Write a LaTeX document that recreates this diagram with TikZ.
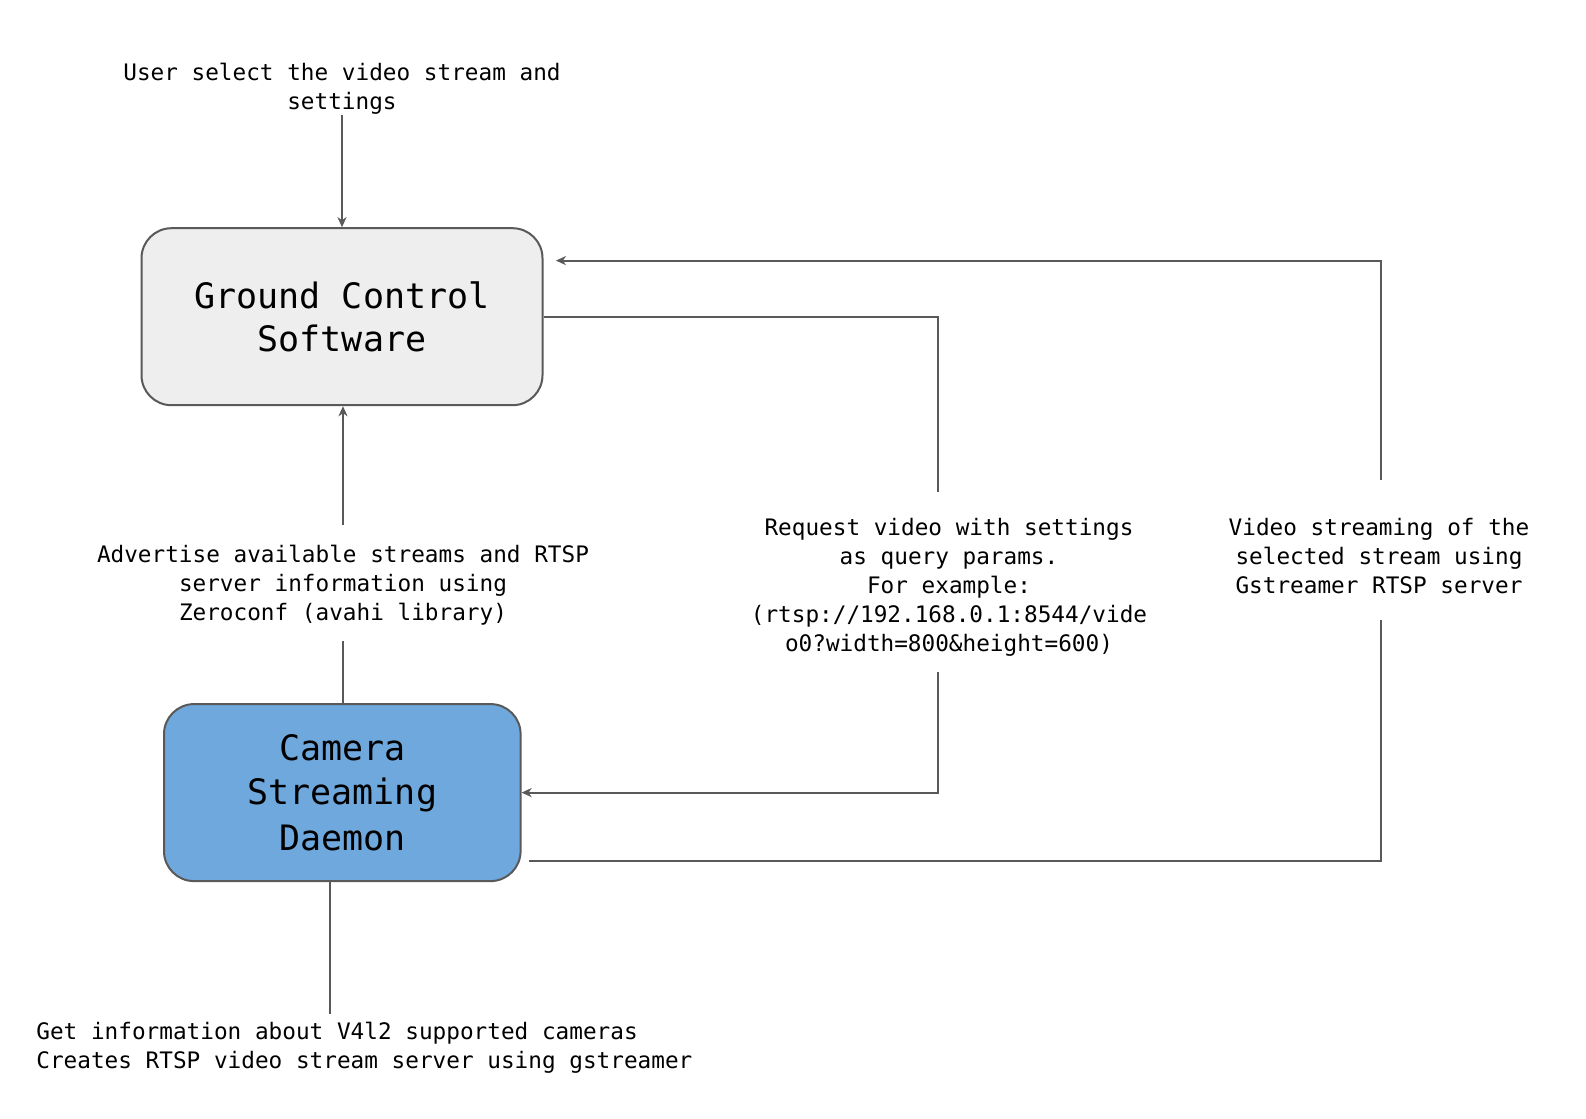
\documentclass[tikz,border=0pt]{standalone}
\usepackage{fontspec}
\usepackage{tikz}
\usetikzlibrary{arrows.meta}
\newfontfamily\diagfont{DejaVu Sans Mono}
\definecolor{wiregray}{HTML}{595959}
\definecolor{gcsfill}{HTML}{EEEEEE}
\definecolor{csdfill}{HTML}{6FA8DC}
\tikzset{
	box/.style={draw=wiregray, line width=1pt, rounded corners=15pt, minimum width=200.5pt, minimum height=88.5pt, align=center, font=\diagfont\fontsize{17.5}{23}\selectfont},
	note/.style={inner sep=0pt, align=center, font=\diagfont\fontsize{11.35}{14.5}\selectfont},
	wire/.style={draw=wiregray, line width=1pt},
	tip/.style={-{Stealth[length=5pt,width=4.5pt,inset=1.5pt]}}
}

\begin{document}
\begin{tikzpicture}[x=0.5pt, y=-0.5pt]
			%%%%% START %%%%%
			\useasboundingbox (0, 0) rectangle (1586, 1119);
			
			\node[box, fill=gcsfill] (gcs) at (342, 316.7) {\raisebox{-1.2pt}{Ground Control}\\Software};
			\node[box, fill=csdfill, minimum width=178.3pt] (csd) at (342.3, 792.6) {\raisebox{-1.2pt}{Camera}\\Streaming\\Daemon};
			
			\node[note] (user) at (342, 88.5) {User select the video stream and\\settings};
			\node[note] (adv) at (343, 585) {Advertise available streams and RTSP\\server information using\\Zeroconf (avahi library)};
			\node[note] (req) at (949, 587) {Request video with settings\\as query params.\\For example:\\(rtsp://192.168.0.1:8544/vide\\o0?width=800\&height=600)};
			\node[note] (vid) at (1379, 556) {Video streaming of the\\selected stream using\\Gstreamer RTSP server};
			\node[note, anchor=west, align=left] (info) at (36, 1047.5) {Get information about V4l2 supported cameras\\Creates RTSP video stream server using gstreamer};
			
			% user and zeroconf
			\draw[wire, tip] (user.south) -- (user.south |- gcs.north);
			\draw[wire, tip, shorten <=10pt] (adv.north) -- (adv.north |- gcs.south);
			\draw[wire, shorten <=8pt] (adv.south) -- (adv.south |- csd.north);
			\draw[wire, shorten >=3.5pt] ([xshift=-6pt]csd.south) -- ([xshift=-6pt]csd.south |- info.north);
			
			% request
			\draw[wire, shorten >=13pt] (gcs.east) -| ([xshift=-5.7pt]req.north);
			\draw[wire, tip, shorten <=8pt] ([xshift=-5.7pt]req.south) |- (csd.east);
			
			% stream
			\draw[wire, shorten <=3.7pt, shorten >=13pt] ([yshift=10.5pt]csd.south east) -| ([xshift=1.2pt]vid.south);
			\draw[wire, tip, shorten <=19pt, shorten >=6.2pt] ([xshift=1pt]vid.north) |- ([yshift=-16.7pt]gcs.north east);
			
			%%%%% END %%%%%
		\end{tikzpicture}
\end{document}
